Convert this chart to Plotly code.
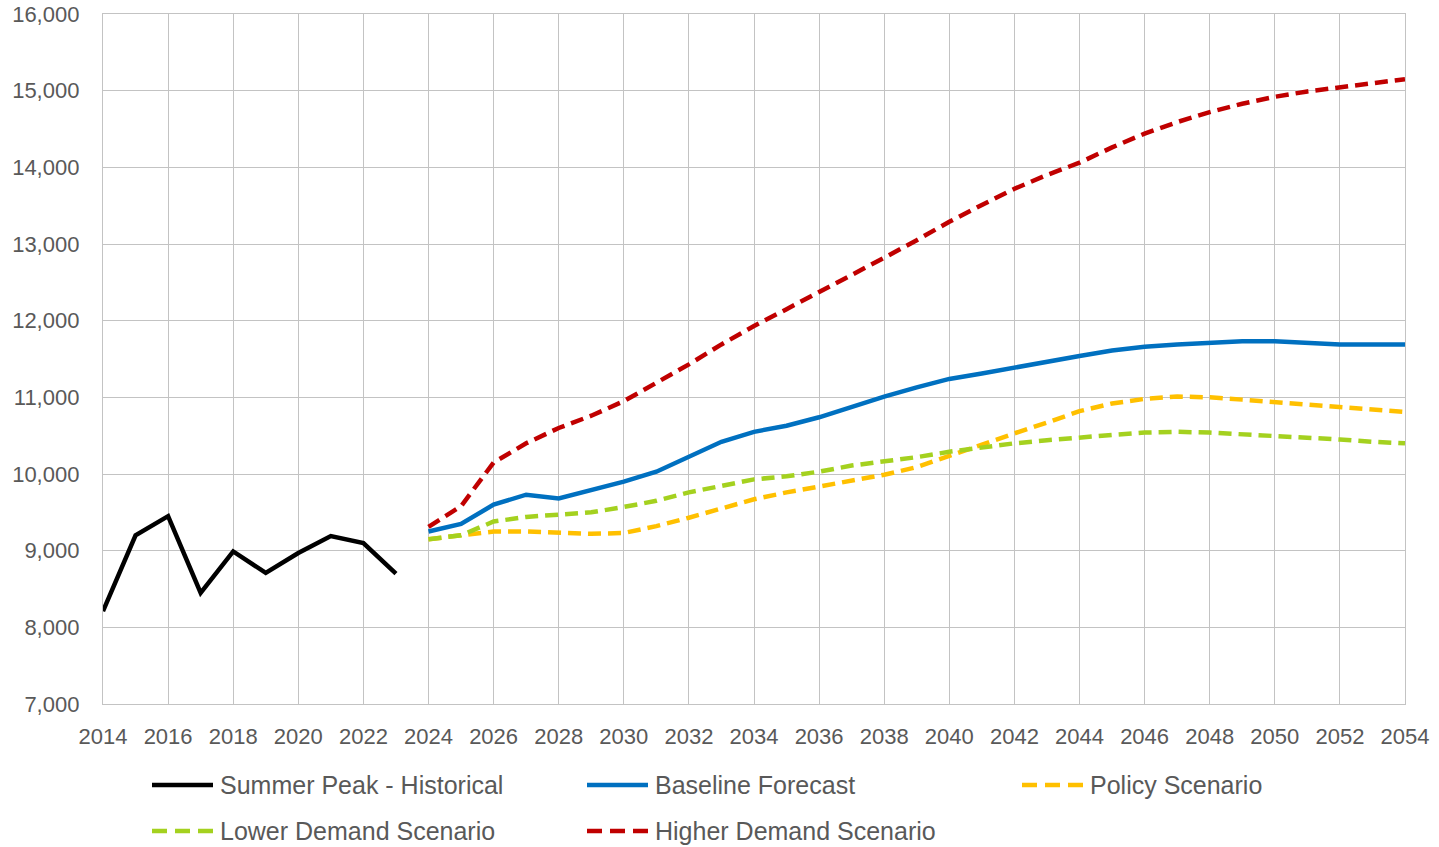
import plotly.graph_objects as go

# ---- data -------------------------------------------------------------
hist_years = list(range(2014, 2024))
hist_peak = [8210, 9200, 9450, 8450, 8990, 8710, 8970, 9190, 9100, 8700]

fc_years = list(range(2024, 2055))
baseline = [9250, 9350, 9600, 9730, 9680, 9790, 9900, 10030, 10220, 10420,
            10550, 10630, 10740, 10880, 11010, 11130, 11240, 11310, 11390, 11460,
            11540, 11610, 11660, 11690, 11710, 11730, 11730, 11710, 11690, 11690,
            11690]
policy = [9150, 9200, 9250, 9250, 9230, 9220, 9230, 9320, 9430, 9550,
          9670, 9760, 9840, 9920, 9990, 10090, 10240, 10390, 10530, 10670,
          10820, 10920, 10980, 11010, 11000, 10970, 10940, 10900, 10870, 10840,
          10810]
lower = [9150, 9200, 9380, 9440, 9470, 9500, 9570, 9650, 9760, 9850,
         9930, 9970, 10030, 10110, 10160, 10220, 10290, 10350, 10400, 10440,
         10480, 10510, 10540, 10550, 10540, 10520, 10500, 10480, 10450, 10420,
         10400]
higher = [9310, 9580, 10150, 10400, 10600, 10760, 10950, 11190, 11430, 11690,
          11930, 12150, 12370, 12600, 12820, 13050, 13290, 13510, 13720, 13900,
          14060, 14260, 14440, 14590, 14720, 14830, 14920, 14990, 15040, 15100,
          15150]

series = [
    ("Summer Peak - Historical", hist_years, hist_peak, "#000000", "solid"),
    ("Baseline Forecast", fc_years, baseline, "#0070C0", "solid"),
    ("Policy Scenario", fc_years, policy, "#FFC000", "13px,7px"),
    ("Lower Demand Scenario", fc_years, lower, "#A4D11F", "13px,7px"),
    ("Higher Demand Scenario", fc_years, higher, "#C00000", "13px,7px"),
]

# ---- layout constants -------------------------------------------------
W, H = 1439, 847
ML, MR, MT, MB = 103, 34, 14, 143
PW, PH = W - ML - MR, H - MT - MB
FONT = "Liberation Sans, Arial, sans-serif"
TXT = "#595959"
GRID = "#C3C3C3"

fig = go.Figure()
for name, xs, ys, color, dash in series:
    fig.add_trace(go.Scatter(
        x=xs, y=ys, mode="lines", name=name, showlegend=False,
        line=dict(color=color, width=4.5, dash=dash),
    ))

# custom legend: long line samples followed by labels (three columns, two rows)
legend_slots = [(0, 0), (1, 0), (2, 0), (0, 1), (1, 1)]
col_x = [152, 587, 1022]
row_y = [785, 831]
sample_len = 61
for (name, _, _, color, dash), (c, r) in zip(series, legend_slots):
    x0 = (col_x[c] - ML) / PW
    x1 = (col_x[c] + sample_len - ML) / PW
    yy = (MT + PH - row_y[r]) / PH
    fig.add_shape(type="line", xref="paper", yref="paper",
                  x0=x0, x1=x1, y0=yy, y1=yy,
                  line=dict(color=color, width=4.5,
                            dash="solid" if dash == "solid" else "15px,8px"))
    fig.add_annotation(xref="paper", yref="paper", x=x1 + 5 / PW, y=yy,
                       text=name, showarrow=False, xanchor="left", yanchor="middle",
                       font=dict(family=FONT, size=25, color=TXT))

fig.update_layout(
    width=W, height=H,
    margin=dict(l=ML, r=MR, t=MT, b=MB, autoexpand=False),
    paper_bgcolor="white", plot_bgcolor="white",
    font=dict(family=FONT, color=TXT, size=22),
    showlegend=False,
)
fig.update_xaxes(
    range=[2014, 2054], dtick=2, tick0=2014, automargin=False,
    showgrid=True, gridcolor=GRID, gridwidth=1.3,
    showline=True, linecolor=GRID, linewidth=1.3, mirror=True,
    zeroline=False, ticks="", ticklabelstandoff=12,
    tickfont=dict(family=FONT, size=22, color=TXT),
)
fig.update_yaxes(
    range=[7000, 16000], dtick=1000, tickformat=",", automargin=False,
    showgrid=True, gridcolor=GRID, gridwidth=1.3,
    showline=True, linecolor=GRID, linewidth=1.3, mirror=True,
    zeroline=False, ticks="", ticklabelstandoff=18,
    tickfont=dict(family=FONT, size=22, color=TXT),
)

fig.write_html("out.html")
